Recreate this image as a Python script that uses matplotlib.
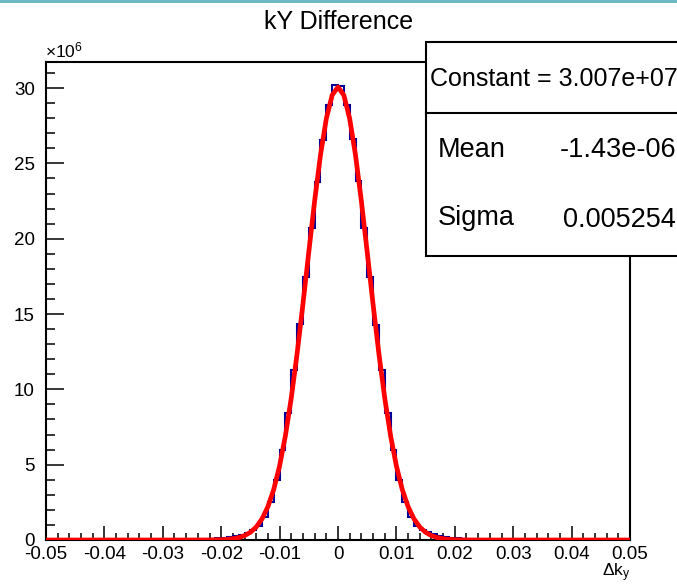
import numpy as np
import matplotlib
matplotlib.use("Agg")
from matplotlib import pyplot as plt
from matplotlib.patches import Rectangle
from matplotlib.lines import Line2D
from matplotlib.ticker import MultipleLocator

plt.rcParams['font.family'] = ['Liberation Sans', 'DejaVu Sans']
plt.rcParams['mathtext.fontset'] = 'custom'
plt.rcParams['mathtext.rm'] = 'Liberation Sans'
plt.rcParams['mathtext.it'] = 'Liberation Sans'

# histogram: 100 bins from -0.05 to 0.05, counts in units of 1e6
x_lo, x_hi, n_bins = -0.05, 0.05, 100
counts_1e6 = [
    0, 0, 0, 0, 0, 0, 0, 0, 0, 0,
    0, 0, 0, 0, 0, 0, 0, 0, 0, 0,
    0, 0, 0, 0, 0, 0, 0.02, 0.03, 0.06, 0.10,
    0.15, 0.20, 0.27, 0.36, 0.48, 0.66, 0.93, 1.55, 2.50, 3.98,
    5.97, 8.45, 11.28, 14.33, 17.47, 20.68, 23.78, 26.54, 28.87, 30.19,
    30.15, 28.90, 26.60, 23.80, 20.70, 17.45, 14.30, 11.30, 8.45, 6.00,
    3.98, 2.50, 1.55, 0.95, 0.68, 0.50, 0.37, 0.27, 0.20, 0.15,
    0.10, 0.06, 0.03, 0.02, 0, 0, 0, 0, 0, 0,
    0, 0, 0, 0, 0, 0, 0, 0, 0, 0,
    0, 0, 0, 0, 0, 0, 0, 0, 0, 0,
]

# gaus fit parameters as printed in the stats box
fit_constant = 3.007e7
fit_mean = -1.43e-06
fit_sigma = 0.005254

fig = plt.figure(figsize=(6.77, 5.84), dpi=100)
ax = fig.add_axes([46 / 677, 1 - 540 / 584, (630 - 46) / 677, (540 - 62) / 584])

edges = np.linspace(x_lo, x_hi, n_bins + 1)
ax.stairs(counts_1e6, edges, color='#000099', linewidth=1.5, zorder=2)

xf = np.linspace(x_lo, x_hi, 101)
yf = fit_constant * np.exp(-0.5 * ((xf - fit_mean) / fit_sigma) ** 2) / 1e6
ax.plot(xf, yf, color='red', linewidth=3.4, zorder=3)

ax.set_xlim(x_lo, x_hi)
ax.set_ylim(0, 31.73)

ax.xaxis.set_major_locator(MultipleLocator(0.01))
ax.xaxis.set_minor_locator(MultipleLocator(0.002))
ax.yaxis.set_major_locator(MultipleLocator(5))
ax.yaxis.set_minor_locator(MultipleLocator(1))
ax.set_xticks(np.arange(-0.05, 0.0501, 0.01))
ax.set_xticklabels(['-0.05', '-0.04', '-0.03', '-0.02', '-0.01', '0',
                    '0.01', '0.02', '0.03', '0.04', '0.05'])

ax.tick_params(axis='both', which='both', direction='in', width=1.1,
               top=False, right=False, labelsize=13.5)
ax.tick_params(axis='y', which='major', length=12.6, pad=8)
ax.tick_params(axis='y', which='minor', length=6.3)
ax.tick_params(axis='x', which='major', length=10.3, pad=4)
ax.tick_params(axis='x', which='minor', length=5.2)
for s in ax.spines.values():
    s.set_linewidth(1.5)

fig.text(0.5, 1 - 22 / 584, 'kY Difference', ha='center', va='center', fontsize=18)
fig.text(45 / 677, 1 - 60 / 584, r'$\times10^{6}$', ha='left', va='bottom', fontsize=12.5)
fig.text(630 / 677, 1 - 561 / 584, r'$\Delta \mathrm{k}_{\mathrm{y}}$', ha='right',
         va='top', fontsize=12.5)

# stats box
bx0, by0 = 426 / 677, 1 - 256 / 584
box = Rectangle((bx0, by0), 0.5, (256 - 42) / 584, transform=fig.transFigure,
                facecolor='white', edgecolor='black', linewidth=1.5, zorder=10)
fig.add_artist(box)
fig.add_artist(Line2D([bx0, 1.0], [1 - 113 / 584] * 2, transform=fig.transFigure,
                      color='black', linewidth=1.5, zorder=11))
fig.text(430 / 677, 1 - 79 / 584, 'Constant = %.3e' % fit_constant,
         ha='left', va='center', fontsize=18, zorder=12)
fig.text(438 / 677, 1 - 150 / 584, 'Mean', ha='left', va='center', fontsize=19.5, zorder=12)
fig.text(676 / 677, 1 - 150 / 584, '%.2e' % fit_mean, ha='right', va='center',
         fontsize=19.5, zorder=12)
fig.text(438 / 677, 1 - 218 / 584, 'Sigma', ha='left', va='center', fontsize=19.5, zorder=12)
fig.text(676 / 677, 1 - 220 / 584, '%.6f' % fit_sigma, ha='right', va='center',
         fontsize=19.5, zorder=12)

# window border line at the very top
fig.add_artist(Line2D([0, 1], [0.999, 0.999], transform=fig.transFigure,
                      color='#5fb6c2', linewidth=2))

fig.savefig('out.png', dpi=100)
